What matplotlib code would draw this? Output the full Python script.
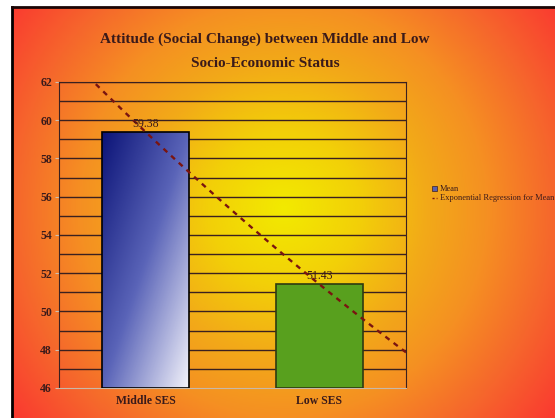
import numpy as np
import matplotlib
matplotlib.use("Agg")
import matplotlib.pyplot as plt
from matplotlib.colors import LinearSegmentedColormap
from matplotlib.lines import Line2D
from matplotlib.patches import Patch

categories = ["Middle SES", "Low SES"]
means = [59.38, 51.43]
value_labels = ["59.38", "51.43"]
title = "Attitude (Social Change) between Middle and Low\nSocio-Economic Status"

plt.rcParams["font.family"] = ["Liberation Serif", "DejaVu Serif"]
text_col = "#3a1a1a"

fig = plt.figure(figsize=(5.55, 4.18), dpi=100)
fig.patch.set_facecolor("white")

# background: radial yellow -> orange -> red gradient inside a black frame
bg = fig.add_axes([13 / 555, 0, 1 - 13 / 555, 1 - 8 / 418])
bg.set_axis_off()
gx, gy = np.meshgrid(np.linspace(-1, 1, 300), np.linspace(-1, 1, 220))
d = np.sqrt(((gx - 0.0) / 1.0) ** 2 + ((gy + 0.02) / 1.35) ** 2)
bg_cmap = LinearSegmentedColormap.from_list(
    "bg", [(0, "#f2ea00"), (0.22, "#f2d008"), (0.42, "#f2aa18"),
           (0.6, "#f59022"), (0.8, "#f6662c"), (1.0, "#fa3a30")])
bg.imshow(np.clip(d / 1.25, 0, 1), cmap=bg_cmap, aspect="auto",
          extent=[0, 1, 0, 1], vmin=0, vmax=1)
bg.set_xlim(0, 1)
bg.set_ylim(0, 1)
fig.add_artist(Line2D([12 / 555, 12 / 555], [0, 1 - 7 / 418], transform=fig.transFigure,
                      color="black", lw=2))
fig.add_artist(Line2D([12 / 555, 1], [1 - 7 / 418, 1 - 7 / 418], transform=fig.transFigure,
                      color="#1a0505", lw=2))

ax = fig.add_axes([59 / 555, 30 / 418, 347 / 555, 306 / 418])
ax.set_facecolor("none")
x = np.arange(len(categories))
ax.set_xlim(-0.5, 1.5)
ax.set_ylim(46, 62)

for v in range(47, 63):
    ax.axhline(v, color="#3a2020", lw=1, zorder=1)

bars = ax.bar(x, [m - 46 for m in means], 0.5, bottom=46,
              color=["none", "#58a01e"], edgecolor=["black", "#2e3a10"], lw=1.2, zorder=3)

# gradient fill for the first bar
b0 = bars[0]
bx0, by0 = b0.get_x(), b0.get_y()
gxx, gyy = np.meshgrid(np.linspace(0, 1, 100), np.linspace(0, 1, 100))
grad = (gxx + gyy) / 2
bar_cmap = LinearSegmentedColormap.from_list("bar", ["#0c1478", "#5a64b8", "#f2f2fa"])
im = ax.imshow(grad, cmap=bar_cmap, aspect="auto", origin="upper",
               extent=[bx0, bx0 + b0.get_width(), by0, by0 + b0.get_height()], zorder=2)
im.set_clip_path(b0)
ax.set_xlim(-0.5, 1.5)
ax.set_ylim(46, 62)

for i, b in enumerate(bars):
    ax.text(b.get_x() + b.get_width() / 2, means[i] + 0.1, value_labels[i],
            ha="center", va="bottom", fontsize=8.5, color=text_col, zorder=5)

# exponential trendline (Excel style, x = 1, 2)
coef = np.polyfit(x + 1, np.log(means), 1)
xt = np.linspace(-0.5, 1.5, 100)
yt = np.exp(coef[1]) * np.exp(coef[0] * (xt + 1))
ax.plot(xt, yt, color="#7a1410", lw=1.7, ls=(0, (2.2, 2.2)), zorder=4)

ax.set_yticks(range(46, 63, 2))
ax.set_xticks(x)
ax.set_xticklabels(categories)
ax.tick_params(axis="x", length=0, pad=5)
ax.tick_params(axis="y", length=3, color="#d0c0b0", pad=2)
for lab in ax.get_xticklabels() + ax.get_yticklabels():
    lab.set_fontweight("bold")
    lab.set_fontsize(8.5)
    lab.set_color(text_col)
for s in ["left", "right", "top"]:
    ax.spines[s].set_color("#3a2020")
ax.spines["bottom"].set_color("#c8b8a8")

handles = [Patch(facecolor="#5a60b0", edgecolor="#3a2020", lw=0.5),
           Line2D([0], [0], color="#7a1410", lw=1, ls=(0, (1.5, 1.5)))]
fig.legend(handles, ["Mean", "Exponential Regression for Mean"],
           loc="upper left", bbox_to_anchor=(428 / 555, 1 - 181 / 418),
           frameon=False, fontsize=6, handlelength=0.6, handleheight=0.6,
           handletextpad=0.3, labelspacing=0.15, borderpad=0,
           labelcolor=text_col)

fig.text(265 / 555, 1 - 51 / 418, title, ha="center", va="center",
         fontsize=11, fontweight="bold", color=text_col, linespacing=2.1)

fig.savefig("out.png", dpi=100)
